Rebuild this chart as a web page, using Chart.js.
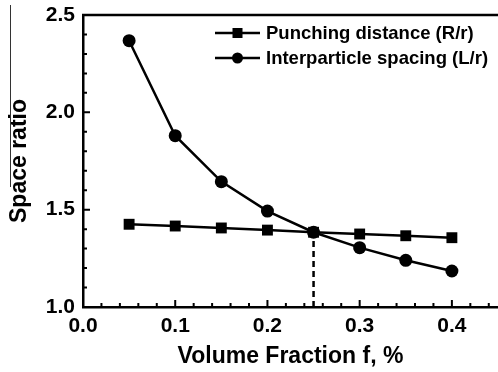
<!DOCTYPE html>
<html><head><meta charset="utf-8">
<script src="https://cdn.jsdelivr.net/npm/chart.js@4/dist/chart.umd.min.js"></script>
<style>html,body{margin:0;padding:0;background:#fff}</style>
</head><body>
<canvas id="c" width="498" height="372"></canvas>
<script>
const volumeFraction = [0.05, 0.10, 0.15, 0.20, 0.25, 0.30, 0.35, 0.40];
const punchingDistance = [1.425, 1.416, 1.406, 1.395, 1.384, 1.375, 1.366, 1.356];
const interparticleSpacing = [2.368, 1.880, 1.644, 1.493, 1.384, 1.305, 1.240, 1.185];
const crossX = [0.25, 0.25];
const crossY = [1.0, 1.384];
const xTicks = [0.0, 0.1, 0.2, 0.3, 0.4];
const xMinorTicks = [0.02,0.04,0.06,0.08,0.12,0.14,0.16,0.18,0.22,0.24,0.26,0.28,0.32,0.34,0.36,0.38,0.42,0.44];
const yTicks = [1.0, 1.5, 2.0, 2.5];
const yMinorTicks = [1.1,1.2,1.3,1.4,1.6,1.7,1.8,1.9,2.1,2.2,2.3,2.4];

const FONT = "'Liberation Sans', Arial, sans-serif";
const pts = (xs, ys) => xs.map((x, i) => ({x, y: ys[i]}));

const decor = {
  id: 'decor',
  afterDraw(chart) {
    const {ctx, chartArea: a, scales: {x, y}} = chart;
    ctx.save();
    ctx.strokeStyle = '#000';
    // top frame line
    ctx.lineWidth = 2.5;
    ctx.beginPath(); ctx.moveTo(a.left - 1, a.top); ctx.lineTo(a.right, a.top); ctx.stroke();
    // inward ticks
    ctx.lineWidth = 2;
    ctx.beginPath();
    xTicks.forEach(v => { const px = x.getPixelForValue(v); ctx.moveTo(px, a.bottom); ctx.lineTo(px, a.bottom - 7); });
    xMinorTicks.forEach(v => { const px = x.getPixelForValue(v); ctx.moveTo(px, a.bottom); ctx.lineTo(px, a.bottom - 4); });
    yTicks.forEach(v => { const py = y.getPixelForValue(v); ctx.moveTo(a.left, py); ctx.lineTo(a.left + 7, py); });
    yMinorTicks.forEach(v => { const py = y.getPixelForValue(v); ctx.moveTo(a.left, py); ctx.lineTo(a.left + 4, py); });
    ctx.stroke();
    // thin vertical artifact line at far left
    ctx.lineWidth = 1;
    ctx.strokeStyle = '#333';
    ctx.beginPath(); ctx.moveTo(10.5, 5); ctx.lineTo(10.5, 187); ctx.stroke();
    // legend
    ctx.font = 'bold 18.5px ' + FONT;
    ctx.textBaseline = 'middle';
    ctx.fillStyle = '#000';
    [0, 1].forEach(i => {
      const ds = chart.data.datasets[i];
      const ly = a.top + 18 + i * 25;
      const x0 = a.left + 132, x1 = a.left + 177, xm = (x0 + x1) / 2;
      ctx.strokeStyle = '#000'; ctx.lineWidth = 2.5;
      ctx.beginPath(); ctx.moveTo(x0, ly); ctx.lineTo(x1, ly); ctx.stroke();
      if (ds.pointStyle === 'rect') { ctx.fillRect(xm - 5, ly - 5, 10, 10); }
      else { ctx.beginPath(); ctx.arc(xm, ly, 5.5, 0, Math.PI * 2); ctx.fill(); }
      ctx.fillText(ds.label, a.left + 183, ly + 1);
    });
    ctx.restore();
  }
};

new Chart(document.getElementById('c'), {
  type: 'line',
  data: {
    datasets: [
      { label: 'Punching distance (R/r)', data: pts(volumeFraction, punchingDistance),
        borderColor: '#000', backgroundColor: '#000', borderWidth: 2.5, pointStyle: 'rect',
        pointRadius: 7.7, pointBorderWidth: 0, tension: 0 },
      { label: 'Interparticle spacing (L/r)', data: pts(volumeFraction, interparticleSpacing),
        borderColor: '#000', backgroundColor: '#000', borderWidth: 2.5, pointStyle: 'circle',
        pointRadius: 6.5, pointBorderWidth: 0, tension: 0 },
      { label: 'cross', data: pts(crossX, crossY), borderColor: '#000', borderWidth: 2.5,
        borderDash: [6, 4], pointRadius: 0, tension: 0 }
    ]
  },
  options: {
    responsive: false, animation: false, devicePixelRatio: 1,
    layout: { autoPadding: false, padding: { top: 15, right: 0, left: 0, bottom: 0 } },
    plugins: { legend: { display: false }, tooltip: { enabled: false } },
    scales: {
      x: {
        type: 'linear', min: 0, max: 0.45,
        afterFit: s => { s.height = 65; s.paddingLeft = 0; s.paddingRight = 0; },
        afterBuildTicks: s => { s.ticks = xTicks.map(v => ({value: v})); },
        grid: { display: false, drawTicks: false },
        border: { display: true, color: '#000', width: 2.5 },
        ticks: { color: '#000', padding: 7, maxRotation: 0, autoSkip: false,
          font: { family: FONT, size: 21, weight: 'bold' }, callback: v => v.toFixed(1) },
        title: { display: true, text: 'Volume Fraction f, %', color: '#000',
          font: { family: FONT, size: 23, weight: 'bold' }, padding: { top: 0, bottom: 2 } }
      },
      y: {
        type: 'linear', min: 1.0, max: 2.5,
        afterFit: s => { s.width = 83; s.paddingTop = 0; s.paddingBottom = 0; },
        afterBuildTicks: s => { s.ticks = yTicks.map(v => ({value: v})); },
        grid: { display: false, drawTicks: false },
        border: { display: true, color: '#000', width: 2.5 },
        ticks: { color: '#000', padding: 8, autoSkip: false,
          font: { family: FONT, size: 21, weight: 'bold' }, callback: v => v.toFixed(1) },
        title: { display: true, text: 'Space ratio', color: '#000',
          font: { family: FONT, size: 23, weight: 'bold' }, padding: { top: 6, bottom: 0 } }
      }
    }
  },
  plugins: [decor]
});
</script>
</body></html>
